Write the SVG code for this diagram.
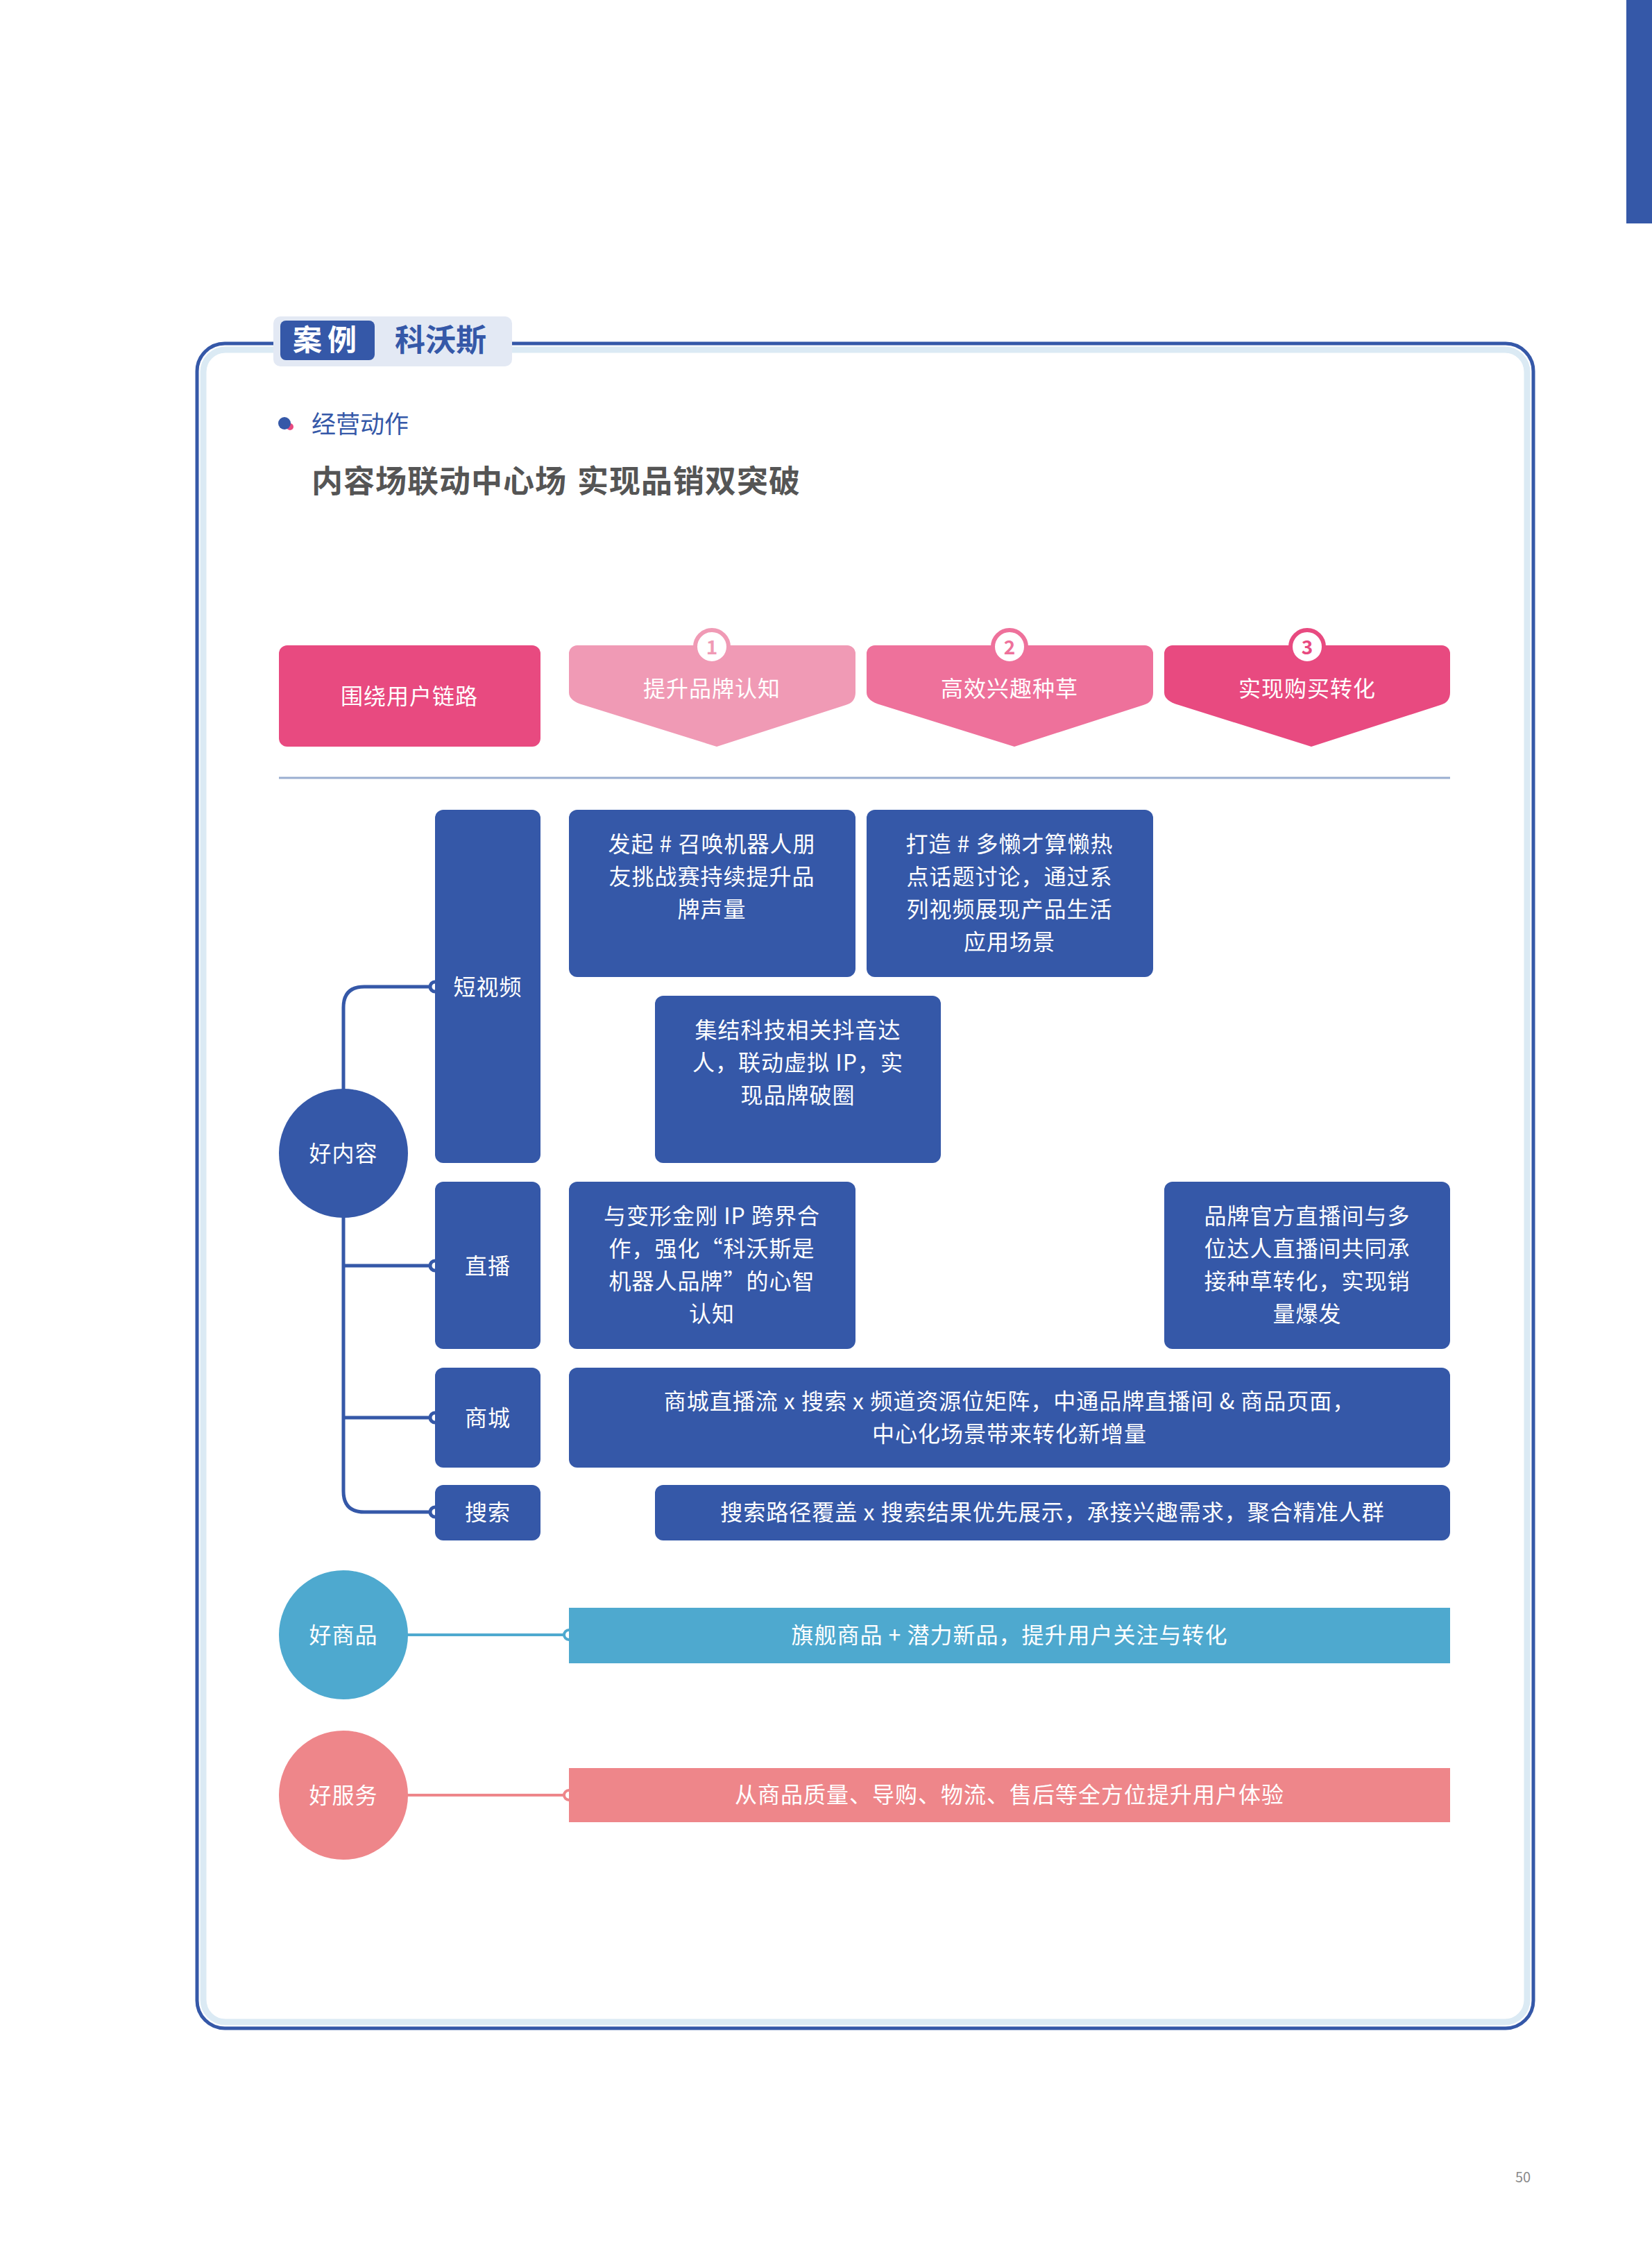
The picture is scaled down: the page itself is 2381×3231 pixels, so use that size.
<svg xmlns="http://www.w3.org/2000/svg" width="2381" height="3231" viewBox="0 0 2381 3231">
<style>
text{font-family:"Noto Sans CJK SC","Noto Sans",sans-serif}
.b{fill:#3558a8}
.w{fill:#fff;font-size:32px;text-anchor:middle;letter-spacing:1px}
.ln{fill:none;stroke:#3558a8;stroke-width:5}
.dot{fill:#fff;stroke:#3558a8;stroke-width:5}
</style>
<rect width="2381" height="3231" fill="#fff"/>
<rect x="2344" y="0" width="37" height="322" fill="#3558a8"/>
<rect x="284" y="495" width="1926" height="2428" rx="40" fill="none" stroke="#3558a8" stroke-width="5"/>
<rect x="293" y="504" width="1908" height="2410" rx="32" fill="none" stroke="#dbeaf4" stroke-width="9"/>
<rect x="394" y="456" width="344" height="72" rx="10" fill="#e3e9f4"/>
<rect x="404" y="462" width="136" height="57" rx="8" fill="#3558a8"/>
<text x="472" y="505" font-size="42" font-weight="bold" fill="#fff" text-anchor="middle" letter-spacing="8">案例</text>
<text x="635" y="506" font-size="44" font-weight="bold" fill="#3558a8" text-anchor="middle">科沃斯</text>
<circle cx="418" cy="615" r="5" fill="#e84a80"/><circle cx="410" cy="610" r="9" fill="#3558a8"/>
<text x="449" y="624" font-size="35" fill="#3558a8">经营动作</text>
<text y="710" font-size="45" font-weight="bold" fill="#555" letter-spacing="1"><tspan x="449">内容场联动中心场</tspan><tspan x="832">实现品销双突破</tspan></text>

<g id="header">
<rect x="402" y="930" width="377" height="146" rx="12" fill="#e84a80"/>
<text class="w" x="590" y="1015">围绕用户链路</text>
<path d="M820 942a12 12 0 0 1 12-12h389a12 12 0 0 1 12 12v56q0 14-14 18l-186 60l-192-60q-21-6-21-18z" fill="#f09ab5"/>
<circle cx="1026" cy="932" r="24" fill="#fff" stroke="#f09ab5" stroke-width="6"/>
<text x="1026" y="943" font-size="28" font-weight="bold" fill="#f09ab5" text-anchor="middle">1</text>
<text class="w" x="1026" y="1004">提升品牌认知</text>
<path d="M1249 942a12 12 0 0 1 12-12h389a12 12 0 0 1 12 12v56q0 14-14 18l-186 60l-192-60q-21-6-21-18z" fill="#ee719b"/>
<circle cx="1455" cy="932" r="24" fill="#fff" stroke="#ee719b" stroke-width="6"/>
<text x="1455" y="943" font-size="28" font-weight="bold" fill="#ee719b" text-anchor="middle">2</text>
<text class="w" x="1455" y="1004">高效兴趣种草</text>
<path d="M1678 942a12 12 0 0 1 12-12h388a12 12 0 0 1 12 12v56q0 14-14 18l-186 60l-191-60q-21-6-21-18z" fill="#e84a80"/>
<circle cx="1884" cy="932" r="24" fill="#fff" stroke="#e84a80" stroke-width="6"/>
<text x="1884" y="943" font-size="28" font-weight="bold" fill="#e84a80" text-anchor="middle">3</text>
<text class="w" x="1884" y="1004">实现购买转化</text>
<line x1="402" y1="1121" x2="2090" y2="1121" stroke="#9aaed0" stroke-width="3"/>
</g>

<g id="connectors">
<path class="ln" d="M627 1422H525q-30 0-30 30V2149q0 30 30 30H627"/>
<path class="ln" d="M495 1824H627M495 2043H627"/>
<line x1="495" y1="2356" x2="820" y2="2356" stroke="#4ea9cf" stroke-width="4"/>
<line x1="495" y1="2587" x2="820" y2="2587" stroke="#ee868a" stroke-width="4"/>
<circle class="dot" cx="627" cy="1422" r="7"/><circle class="dot" cx="627" cy="1824" r="7"/>
<circle class="dot" cx="627" cy="2043" r="7"/><circle class="dot" cx="627" cy="2179" r="7"/>
<circle cx="820" cy="2356" r="7" fill="#fff" stroke="#4ea9cf" stroke-width="4"/>
<circle cx="820" cy="2587" r="7" fill="#fff" stroke="#ee868a" stroke-width="4"/>
</g>

<g id="n-content"><circle cx="495" cy="1662" r="93" class="b"/><text class="w" x="495" y="1674">好内容</text></g>
<g id="n-video"><rect class="b" x="627" y="1167" width="152" height="509" rx="12"/><text class="w" x="703" y="1434">短视频</text></g>
<g id="n-live"><rect class="b" x="627" y="1703" width="152" height="241" rx="12"/><text class="w" x="703" y="1836">直播</text></g>
<g id="n-mall"><rect class="b" x="627" y="1971" width="152" height="144" rx="12"/><text class="w" x="703" y="2055">商城</text></g>
<g id="n-search"><rect class="b" x="627" y="2140" width="152" height="80" rx="12"/><text class="w" x="703" y="2191">搜索</text></g>

<g id="b1"><rect class="b" x="820" y="1167" width="413" height="241" rx="12"/>
<text class="w" x="1026" y="1228">发起 # 召唤机器人朋</text><text class="w" x="1026" y="1275">友挑战赛持续提升品</text><text class="w" x="1026" y="1322">牌声量</text></g>
<g id="b2"><rect class="b" x="1249" y="1167" width="413" height="241" rx="12"/>
<text class="w" x="1455" y="1228">打造 # 多懒才算懒热</text><text class="w" x="1455" y="1275">点话题讨论，通过系</text><text class="w" x="1455" y="1322">列视频展现产品生活</text><text class="w" x="1455" y="1369">应用场景</text></g>
<g id="b3"><rect class="b" x="944" y="1435" width="412" height="241" rx="12"/>
<text class="w" x="1150" y="1496">集结科技相关抖音达</text><text class="w" x="1150" y="1543">人，联动虚拟 IP，实</text><text class="w" x="1150" y="1590">现品牌破圈</text></g>
<g id="b4"><rect class="b" x="820" y="1703" width="413" height="241" rx="12"/>
<text class="w" x="1026" y="1764">与变形金刚 IP 跨界合</text><text class="w" x="1026" y="1811">作，强化“科沃斯是</text><text class="w" x="1026" y="1858">机器人品牌”的心智</text><text class="w" x="1026" y="1905">认知</text></g>
<g id="b5"><rect class="b" x="1678" y="1703" width="412" height="241" rx="12"/>
<text class="w" x="1884" y="1764">品牌官方直播间与多</text><text class="w" x="1884" y="1811">位达人直播间共同承</text><text class="w" x="1884" y="1858">接种草转化，实现销</text><text class="w" x="1884" y="1905">量爆发</text></g>
<g id="b6"><rect class="b" x="820" y="1971" width="1270" height="144" rx="12"/>
<text class="w" x="1455" y="2031">商城直播流 x 搜索 x 频道资源位矩阵，中通品牌直播间 &amp; 商品页面，</text><text class="w" x="1455" y="2078">中心化场景带来转化新增量</text></g>
<g id="b7"><rect class="b" x="944" y="2140" width="1146" height="80" rx="12"/>
<text class="w" x="1517" y="2191">搜索路径覆盖 x 搜索结果优先展示，承接兴趣需求，聚合精准人群</text></g>

<g id="n-goods"><circle cx="495" cy="2356" r="93" fill="#4ea9cf"/><text class="w" x="495" y="2368">好商品</text></g>
<g id="b8"><rect x="820" y="2317" width="1270" height="80" fill="#4ea9cf"/><text class="w" x="1455" y="2368">旗舰商品 + 潜力新品，提升用户关注与转化</text></g>
<g id="n-service"><circle cx="495" cy="2587" r="93" fill="#ee868a"/><text class="w" x="495" y="2599">好服务</text></g>
<g id="b9"><rect x="820" y="2548" width="1270" height="78" fill="#ee868a"/><text class="w" x="1455" y="2598">从商品质量、导购、物流、售后等全方位提升用户体验</text></g>
<text x="2195" y="3145" font-size="20" fill="#888" text-anchor="middle" font-family="Liberation Sans,sans-serif">50</text>
</svg>
